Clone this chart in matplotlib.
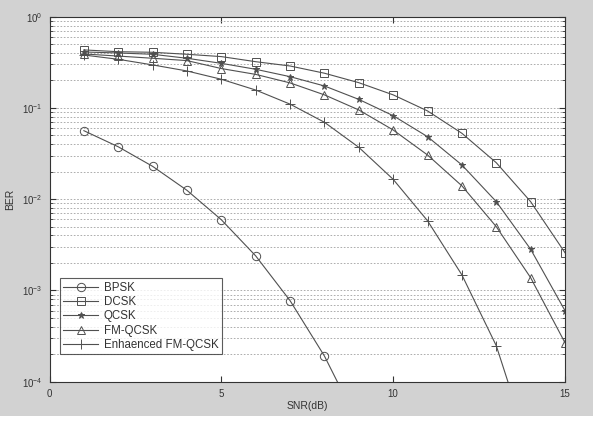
import numpy as np
import matplotlib
matplotlib.use('Agg')
import matplotlib.pyplot as plt
from matplotlib.patches import Rectangle
from matplotlib.ticker import LogLocator, NullFormatter

snr = [1, 2, 3, 4, 5, 6, 7, 8, 9, 10, 11, 12, 13, 14, 15]

ber_bpsk = [0.0563, 0.0375, 0.0229, 0.0125, 0.00595, 0.00239, 0.000773, 0.000191, 3.4e-5]
ber_dcsk = [0.432, 0.413, 0.407, 0.387, 0.365, 0.321, 0.288, 0.240, 0.189, 0.139,
            0.0927, 0.0527, 0.0251, 0.0094, 0.00259]
ber_qcsk = [0.41, 0.40, 0.387, 0.35, 0.308, 0.265, 0.22, 0.174, 0.124, 0.0822,
            0.0484, 0.0237, 0.0094, 0.00283, 0.0006]
ber_fmqcsk = [0.39, 0.37, 0.35, 0.33, 0.27, 0.233, 0.188, 0.139, 0.095, 0.0573,
              0.0305, 0.0140, 0.0050, 0.00138, 0.000267]
ber_enh = [0.38, 0.341, 0.296, 0.254, 0.206, 0.157, 0.110, 0.0696, 0.037, 0.0165,
           0.0058, 0.00148, 0.000248, 1.7e-5]

labels = ['BPSK', 'DCSK', 'QCSK', 'FM-QCSK', 'Enhaenced FM-QCSK']

plt.rcParams['font.family'] = ['Liberation Sans', 'DejaVu Sans']

fig = plt.figure(figsize=(5.98, 4.43), dpi=100)
fig.patch.set_facecolor('white')
# 灰色背景区域
bg = Rectangle((0, 1 - 416 / 443), 593 / 598, 416 / 443,
               transform=fig.transFigure, facecolor='#d2d2d2',
               edgecolor='none', zorder=-10)
fig.add_artist(bg)

ax = fig.add_axes([0.0828, 0.1384, 0.862, 0.824])
ax.set_zorder(1)
ax.set_facecolor('white')

lc = '#505050'
kw = dict(color=lc, linewidth=0.8, markersize=6, markerfacecolor='none',
          markeredgecolor=lc, markeredgewidth=0.7)
ax.semilogy(snr[:len(ber_bpsk)], ber_bpsk, marker='o', label=labels[0], **kw)
ax.semilogy(snr, ber_dcsk, marker='s', label=labels[1], **kw)
ax.semilogy(snr, ber_qcsk, marker='*', label=labels[2],
            **{**kw, 'markerfacecolor': lc, 'markersize': 5})
ax.semilogy(snr, ber_fmqcsk, marker='^', label=labels[3], **kw)
ax.semilogy(snr[:len(ber_enh)], ber_enh, marker='+', label=labels[4],
            **{**kw, 'markersize': 7})

ax.set_xlim(0, 15)
ax.set_ylim(1e-4, 1)
ax.set_xticks([0, 5, 10, 15])
ax.yaxis.set_major_locator(LogLocator(base=10, numticks=10))
ax.yaxis.set_minor_locator(LogLocator(base=10, subs=np.arange(2, 10), numticks=20))
ax.yaxis.set_minor_formatter(NullFormatter())

ax.grid(axis='y', which='both', color='#a0a0a0', linestyle=(0, (2, 2)), linewidth=0.6)
ax.tick_params(which='both', direction='in', top=True, right=True,
               labelsize=7, colors='#333333')
ax.tick_params(which='major', length=4, pad=5)
ax.tick_params(which='minor', length=2)
for s in ax.spines.values():
    s.set_color('#333333')
    s.set_linewidth(0.8)

ax.set_xlabel('SNR(dB)', fontsize=7.5, color='#333333', labelpad=2)
ax.set_ylabel('BER', fontsize=7.5, color='#333333', labelpad=5)

leg = ax.legend(loc='lower left', bbox_to_anchor=(0.02, 0.075), fontsize=8.3,
                frameon=True, fancybox=False, handlelength=3, borderpad=0.3,
                labelspacing=0.2, handletextpad=0.5, borderaxespad=0)
leg.get_frame().set_edgecolor('#333333')
leg.get_frame().set_linewidth(0.8)
for t in leg.get_texts():
    t.set_color('#333333')

fig.savefig('out.png', dpi=100)
